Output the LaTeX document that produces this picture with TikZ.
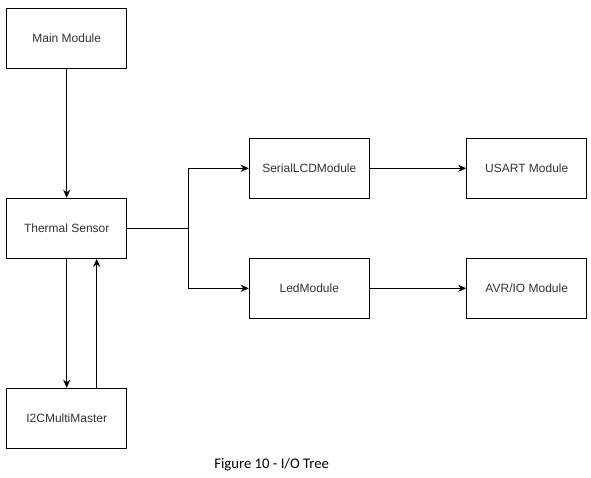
\documentclass[tikz,border=0pt]{standalone}
\usepackage{fontspec}
\setmainfont{Liberation Sans}
\newfontfamily\captionfont{Carlito}
\usepackage{tikz}
\usetikzlibrary{arrows.meta}

\begin{document}
\begin{tikzpicture}[x=1pt,y=-1pt,line width=1pt,
			>={Stealth[length=8pt,width=7pt,inset=2.5pt]},
			modbox/.style={draw,minimum width=120pt,minimum height=60pt,inner sep=0pt,
				text=black!80,font=\fontsize{12}{14}\selectfont}]
			\useasboundingbox (0,0) rectangle (591,478);
			\node[modbox] (main) at (66.7,38.7) {Main Module};
			\node[modbox] (thermal) at (66.7,228.3) {Thermal Sensor};
			\node[modbox] (i2c) at (66.7,418.3) {I2CMultiMaster};
			\node[modbox] (serial) at (309.3,168.3) {SerialLCDModule};
			\node[modbox] (led) at (309.3,288.3) {LedModule};
			\node[modbox] (usart) at (526.7,168.3) {USART Module};
			\node[modbox] (avr) at (526.7,288.3) {AVR/IO Module};
			\coordinate (split) at (188.3,228.3);
			\draw[->](main)--(thermal);
			\draw[->](thermal.south)--(i2c.north);
			\draw[->]([xshift=30pt]i2c.north)--([xshift=30pt]thermal.south);
			\draw(thermal.east)--(split);
			\draw[->](split)|-(serial.west);
			\draw[->](split)|-(led.west);
			\draw[->](serial)--(usart);
			\draw[->](led)--(avr);
			\node[font=\captionfont\fontsize{14.7}{16}\selectfont] (caption) at (271.7,465) {Figure 10 - I/O Tree};
		\end{tikzpicture}
\end{document}
